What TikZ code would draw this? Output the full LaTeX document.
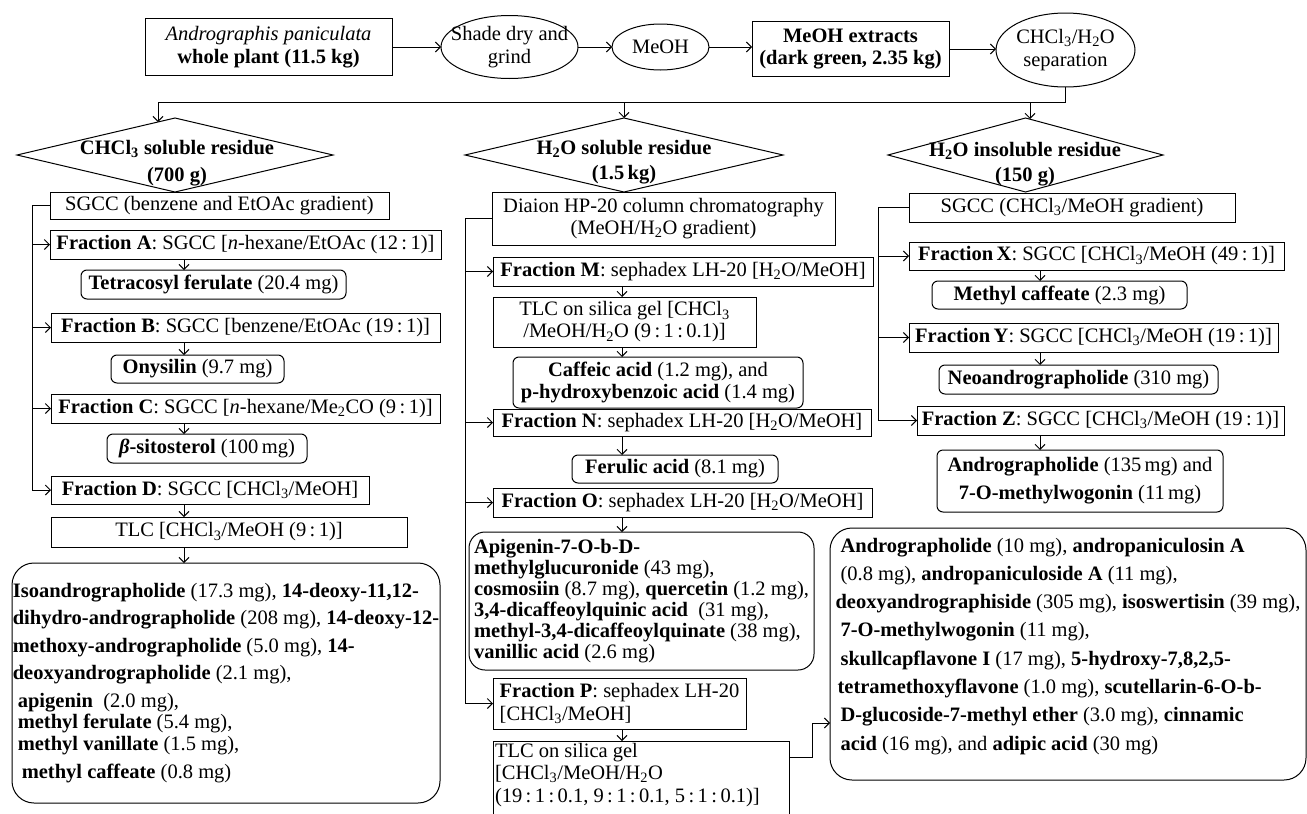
\documentclass[tikz,border=0pt]{standalone}
\usepackage{fontspec}
\setmainfont{Liberation Serif}
\usetikzlibrary{shapes.geometric,arrows.meta,calc}
\newcommand\fsz{\fontsize{20.5}{22.5}\selectfont}
\newcommand\sbs[1]{\textsubscript{#1}}
\begin{document}
\begin{tikzpicture}[x=1pt,y=-1pt,
 every node/.style={font=\fsz,inner sep=0pt,outer sep=0pt},
 wh/.style 2 args={minimum width=#1pt,minimum height=#2pt},
 bx/.style={draw,line width=1pt},
 rbx/.style={draw,line width=1pt,rounded corners=6pt},
 ell/.style={draw,ellipse,line width=1pt},
 ln/.style={line width=1pt},
 arr/.style={line width=1pt,-{Straight Barb[length=5pt,width=10pt]}}]
\useasboundingbox (0,0) rectangle (1307,814);
\fill[white] (0,0) rectangle (1307,814);

% ---------- top row ----------
\node[bx,wh={247}{57},align=center] (b1) at (268.5,47) {\textit{Andrographis paniculata}\\\textbf{whole plant (11.5 kg)}};
\node[ell,wh={137}{63},label={[align=center]center:{Shade dry and\\grind}}] (e1) at (509.5,47) {};
\node[ell,wh={97}{46}] (e2) at (660.5,47) {MeOH};
\node[bx,wh={197}{55},align=center,font=\fsz\bfseries] (b2) at (850.5,49) {MeOH extracts\\(dark green, 2.35 kg)};
\node[ell,wh={139}{74},label={[align=center]center:{CHCl\sbs3/H\sbs2O\\separation}}] (e3) at (1065.5,50) {};

\draw[arr] (b1.east) -- (b1.east -| e1.west);
\draw[arr] (e1.east) -- (e1.east -| e2.west);
\draw[arr] (e2.east) -- (e2.east -| b2.west);
\draw[arr] (b2.east) -- (b2.east -| e3.west);

% ---------- split ----------
\coordinate (jL) at (158,102);
\coordinate (jM) at (624,102);
\coordinate (jR) at (1030,102);
\coordinate (tL) at (158,122);
\coordinate (tM) at (624,118);
\coordinate (tR) at (1030,119);
\draw[ln] (e3.south) -- (e3.south |- jL) -- (jL);
\draw[arr] (jL) -- (tL);
\draw[arr] (jM) -- (tM);
\draw[arr] (jR) -- (tR);

% ---------- diamonds ----------
\draw[ln] (17,155) -- (175,118) -- (333,155) -- (175,192) -- cycle;
\draw[ln] (465,155) -- (624,118) -- (783,155) -- (624,192) -- cycle;
\draw[ln] (888,155) -- (1025.5,118) -- (1163,155) -- (1025.5,192) -- cycle;
\node[align=center,font=\fsz\bfseries] (dL) at (177,163) {CHCl\sbs3 soluble residue\\[5pt](700 g)};
\node[align=center,font=\fsz\bfseries] (dM) at (624,162) {H\sbs2O soluble residue\\[3pt](1.5\,kg)};
\node[align=center,font=\fsz\bfseries] (dR) at (1025,164) {H\sbs2O insoluble residue\\[3pt](150 g)};

% ---------- left column ----------
\node[bx,wh={339}{27}] (lsg) at (219.5,205.5) {SGCC (benzene and EtOAc gradient)};
\node[bx,wh={391}{29}] (fA) at (245.5,244.5) {\textbf{Fraction A}: SGCC [\textit{n}-hexane/EtOAc (12\,:\,1)]};
\node[rbx,wh={265}{29}] (tet) at (213.5,284.5) {\textbf{Tetracosyl ferulate} (20.4 mg)};
\node[bx,wh={389}{29}] (fB) at (245.5,327.5) {\textbf{Fraction B}: SGCC [benzene/EtOAc (19\,:\,1)]};
\node[rbx,wh={173}{28}] (ony) at (197.5,369) {\textbf{Onysilin} (9.7 mg)};
\node[bx,wh={389}{29}] (fC) at (245.5,408.5) {\textbf{Fraction C}: SGCC [\textit{n}-hexane/Me\sbs2CO (9\,:\,1)]};
\node[rbx,wh={200}{29}] (bsit) at (207,448.5) {\textbf{\textit{β}-sitosterol} (100\,mg)};
\node[bx,wh={318}{28}] (fD) at (210,490) {\textbf{Fraction D}: SGCC [CHCl\sbs3/MeOH]};
\node[bx,wh={356}{30}] (tlcL) at (229,532) {TLC [CHCl\sbs3/MeOH (9\,:\,1)]\hspace{27pt}};
\node[rbx,rounded corners=22pt,wh={428}{240},align=left,font={\fontsize{20.5}{27.5}\selectfont}] (bigL) at (226,683) {%
\textbf{Isoandrographolide} (17.3 mg), \textbf{14-deoxy-11,12-}\\
\textbf{dihydro-andrographolide} (208 mg), \textbf{14-deoxy-12-}\\
\textbf{methoxy-andrographolide} (5.0 mg), \textbf{14-}\\
\textbf{deoxyandrographolide} (2.1 mg),\\
\hspace*{5pt}\textbf{apigenin}\ \ (2.0 mg),\\[-6pt]
\hspace*{5pt}\textbf{methyl ferulate} (5.4 mg),\\[-5.5pt]
\hspace*{5pt}\textbf{methyl vanillate} (1.5 mg),\\
\hspace*{9pt}\textbf{methyl caffeate} (0.8 mg)};

\coordinate (vL) at (32,0);
\coordinate (xL) at (184,0);
\draw[arr] (lsg.west) -- (lsg.west -| vL) -- (fD.west -| vL) -- (fD.west);
\draw[arr] (fA.west -| vL) -- (fA.west);
\draw[arr] (fB.west -| vL) -- (fB.west);
\draw[arr] (fC.west -| vL) -- (fC.west);
\draw[arr] (fA.south -| xL) -- (tet.north -| xL);
\draw[arr] (fB.south -| xL) -- (ony.north -| xL);
\draw[arr] (fC.south -| xL) -- (bsit.north -| xL);
\draw[arr] (fD.south -| xL) -- (tlcL.north -| xL);
\draw[arr] (tlcL.south -| xL) -- (bigL.north -| xL);

% ---------- middle column ----------
\node[bx,wh={343}{53},align=center] (dia) at (663.5,218.5) {Diaion HP-20 column chromatography\\(MeOH/H\sbs2O gradient)};
\node[bx,wh={380}{29}] (fM) at (683,271.5) {\textbf{Fraction M}: sephadex LH-20 [H\sbs2O/MeOH]};
\node[bx,wh={263}{50},align=center,font={\fontsize{20.5}{22}\selectfont}] (tlcM) at (624.5,322) {TLC on silica gel [CHCl\sbs3\\/MeOH/H\sbs2O (9\,:\,1\,:\,0.1)]};
\node[rbx,wh={290}{51},align=center,font={\fontsize{20.5}{21.5}\selectfont}] (caf) at (658,382.5) {\textbf{Caffeic acid} (1.2 mg), and\\\textbf{p-hydroxybenzoic acid} (1.4 mg)};
\node[bx,wh={378}{27}] (fN) at (682,422.5) {\textbf{Fraction N}: sephadex LH-20 [H\sbs2O/MeOH]};
\node[rbx,wh={206}{28}] (fer) at (675,469) {\textbf{Ferulic acid} (8.1 mg)};
\node[bx,wh={379}{29}] (fO) at (682.5,502.5) {\textbf{Fraction O}: sephadex LH-20 [H\sbs2O/MeOH]};
\node[rbx,rounded corners=16pt,wh={345}{138},align=left,font={\fontsize{20.5}{21}\selectfont}] (api) at (641.5,601) {%
\textbf{Apigenin-7-O-b-D-}\\
\textbf{methylglucuronide} (43 mg),\\
\textbf{cosmosiin} (8.7 mg), \textbf{quercetin} (1.2 mg),\\
\textbf{3,4-dicaffeoylquinic acid}\ \ (31 mg),\\
\textbf{methyl-3,4-dicaffeoylquinate} (38 mg),\\
\textbf{vanillic acid} (2.6 mg)};
\node[bx,wh={253}{51},align=left] (fP) at (619.5,703.5) {\textbf{Fraction P}: sephadex LH-20\\{}[CHCl\sbs3/MeOH]};
\node[bx,wh={296}{90},anchor=north west] (tlcP) at (493,741) {};
\node[anchor=north west,align=left,font={\fontsize{20.5}{22.5}\selectfont}] (tlcPt) at (495,743) {TLC on silica gel\\{}[CHCl\sbs3/MeOH/H\sbs2O\\(19\,:\,1\,:\,0.1, 9\,:\,1\,:\,0.1, 5\,:\,1\,:\,0.1)]};

\coordinate (vM) at (465,0);
\coordinate (xM) at (622,0);
\draw[arr] (dia.west) -- (dia.west -| vM) -- (fP.west -| vM) -- (fP.west);
\draw[arr] (fM.west -| vM) -- (fM.west);
\draw[arr] (fN.west -| vM) -- (fN.west);
\draw[arr] (fO.west -| vM) -- (fO.west);
\draw[arr] (fM.south -| xM) -- (tlcM.north -| xM);
\draw[arr] (tlcM.south -| xM) -- (caf.north -| xM);
\draw[arr] (fN.south -| xM) -- (fer.north -| xM);
\draw[arr] (fO.south -| xM) -- (api.north -| xM);
\draw[arr] (fP.south -| xM) -- (tlcP.north -| xM);

% ---------- right column ----------
\node[bx,wh={326}{29}] (rsg) at (1072,207.5) {SGCC (CHCl\sbs3/MeOH gradient)};
\node[bx,wh={375}{28}] (fX) at (1096.5,256) {\textbf{Fraction\,X}: SGCC [CHCl\sbs3/MeOH (49\,:\,1)]};
\node[rbx,wh={255}{28}] (mc) at (1059.5,295) {\textbf{Methyl caffeate} (2.3 mg)};
\node[bx,wh={369}{29}] (fY) at (1093.5,337.5) {\textbf{Fraction\,Y}: SGCC [CHCl\sbs3/MeOH (19\,:\,1)]};
\node[rbx,wh={279}{29}] (neo) at (1078.5,379.5) {\textbf{Neoandrographolide} (310 mg)};
\node[bx,wh={367}{29}] (fZ) at (1100.5,420.5) {\textbf{Fraction Z}: SGCC [CHCl\sbs3/MeOH (19\,:\,1)]};
\node[rbx,wh={286}{62},align=center,font={\fontsize{20.5}{28}\selectfont}] (andr) at (1080,481) {\textbf{Andrographolide} (135\,mg) and\\\textbf{7-O-methylwogonin} (11\,mg)};
\node[rbx,rounded corners=22pt,wh={476}{252},align=left,font={\fontsize{20.5}{28.3}\selectfont}] (bigR) at (1068,654) {%
\hspace*{5pt}\textbf{Andrographolide} (10 mg), \textbf{andropaniculosin A}\\
\hspace*{5pt}(0.8 mg), \textbf{andropaniculoside A} (11 mg),\\
\textbf{deoxyandrographiside} (305 mg), \textbf{isoswertisin} (39 mg),\\
\hspace*{5pt}\textbf{7-O-methylwogonin} (11 mg),\\
\hspace*{5pt}\textbf{skullcapflavone I} (17 mg), \textbf{5-hydroxy-7,8,2,5-}\\
\hspace*{2pt}\textbf{tetramethoxyflavone} (1.0 mg), \textbf{scutellarin-6-O-b-}\\
\hspace*{5pt}\textbf{D-glucoside-7-methyl ether} (3.0 mg), \textbf{cinnamic}\\
\hspace*{5pt}\textbf{acid} (16 mg), and \textbf{adipic acid} (30 mg)\rule[-20pt]{0pt}{1pt}};

\coordinate (vR) at (878,0);
\coordinate (xR) at (1040,0);
\draw[arr] (rsg.west) -- (rsg.west -| vR) -- (fZ.west -| vR) -- (fZ.west);
\draw[arr] (fX.west -| vR) -- (fX.west);
\draw[arr] (fY.west -| vR) -- (fY.west);
\draw[arr] (fX.south -| xR) -- (mc.north -| xR);
\draw[arr] (fY.south -| xR) -- (neo.north -| xR);
\draw[arr] (fZ.south -| xR) -- (andr.north -| xR);

% ---------- link TLC -> right big box ----------
\coordinate (outP) at ($(tlcP.north east)+(0,16)$);
\coordinate (inR) at ($(bigR.north west)+(0,195)$);
\draw[arr] (outP) -| ($(inR)+(-18,0)$) -- (inR);
\end{tikzpicture}
\end{document}
